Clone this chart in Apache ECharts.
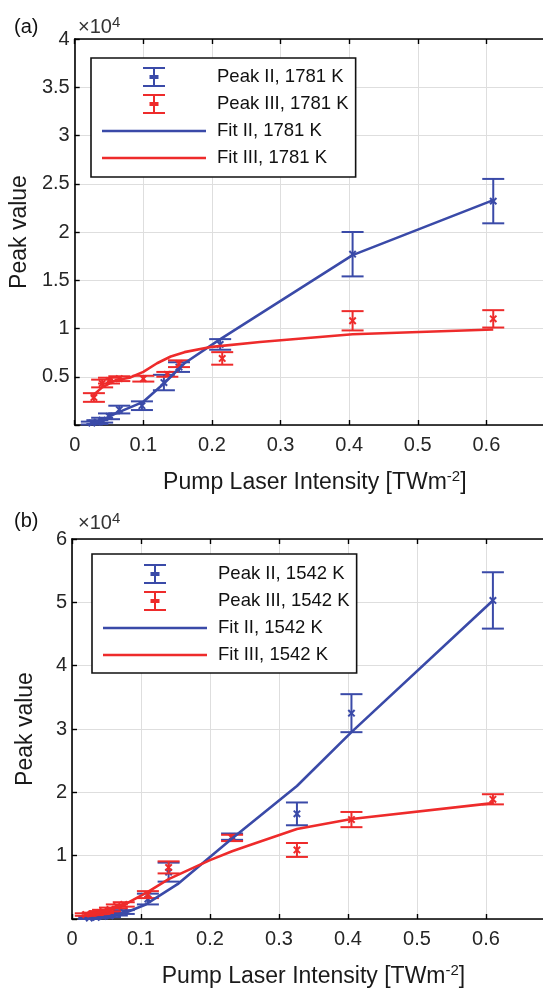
<!DOCTYPE html>
<html>
<head>
<meta charset="utf-8">
<script src="https://cdn.jsdelivr.net/npm/echarts@6/dist/echarts.min.js"></script>
<style>html,body{margin:0;padding:0;background:#fff;overflow:hidden}#c{width:572px;height:989px}</style>
</head>
<body>
<div id="c"></div>
<script>
// ---------- Panel (a): 1781 K ----------
const aPeakIIx   = [0.025, 0.033, 0.040, 0.050, 0.065, 0.098, 0.130, 0.152, 0.212, 0.405, 0.610];
const aPeakIIy   = [200, 300, 500, 900, 1600, 2000, 4400, 6000, 8350, 17700, 23200];
const aPeakIIerr = [150, 200, 250, 300, 400, 450, 800, 500, 550, 2300, 2300];
const aPeakIIIx   = [0.028, 0.040, 0.050, 0.065, 0.100, 0.135, 0.152, 0.215, 0.405, 0.610];
const aPeakIIIy   = [2850, 4300, 4600, 4800, 4800, 5250, 6350, 6900, 10800, 11000];
const aPeakIIIerr = [450, 400, 300, 250, 300, 250, 350, 650, 1000, 900];
const aFitIIx = [0.020, 0.040, 0.060, 0.100, 0.130, 0.160, 0.210, 0.405, 0.610];
const aFitIIy = [0, 500, 1200, 2400, 4300, 6400, 8800, 17600, 23300];
const aFitIIIx = [0.024, 0.040, 0.060, 0.080, 0.100, 0.120, 0.140, 0.160, 0.200, 0.270, 0.405, 0.610];
const aFitIIIy = [2900, 3900, 4650, 4900, 5500, 6400, 7100, 7550, 8100, 8600, 9400, 9900];

// ---------- Panel (b): 1542 K ----------
const bPeakIIx   = [0.025, 0.035, 0.045, 0.055, 0.065, 0.075, 0.110, 0.140, 0.232, 0.326, 0.405, 0.610];
const bPeakIIy   = [150, 250, 400, 500, 800, 1100, 3150, 7400, 13000, 16600, 32500, 50300];
const bPeakIIerr = [150, 150, 200, 200, 250, 300, 850, 1500, 500, 1800, 3000, 4450];
const bPeakIIIx   = [0.020, 0.030, 0.040, 0.045, 0.055, 0.065, 0.075, 0.110, 0.140, 0.232, 0.326, 0.405, 0.610];
const bPeakIIIy   = [700, 800, 1000, 1200, 1500, 2000, 2300, 3850, 8150, 12800, 10900, 15700, 18900];
const bPeakIIIerr = [200, 200, 250, 250, 300, 300, 350, 550, 950, 500, 1100, 1200, 800];
const bFitIIx = [0.020, 0.050, 0.080, 0.107, 0.153, 0.200, 0.232, 0.326, 0.405, 0.610];
const bFitIIy = [0, 300, 1100, 2300, 5500, 9800, 12700, 21000, 29500, 50300];
const bFitIIIx = [0.020, 0.050, 0.080, 0.110, 0.140, 0.200, 0.232, 0.256, 0.326, 0.405, 0.610];
const bFitIIIy = [700, 1300, 2500, 4300, 6300, 9300, 10700, 11600, 14200, 15800, 18300];

// ---------- labels ----------
const namesA = ['Peak II, 1781 K', 'Peak III, 1781 K', 'Fit II, 1781 K', 'Fit III, 1781 K'];
const namesB = ['Peak II, 1542 K', 'Peak III, 1542 K', 'Fit II, 1542 K', 'Fit III, 1542 K'];
const xTicks = { min: 0, max: 0.7, interval: 0.1 };
const yTicksA = { min: 0, max: 40000, interval: 5000 };
const yTicksB = { min: 0, max: 60000, interval: 10000 };
const xTitle = 'Pump Laser Intensity [TWm{s|-2}]';
const yTitle = 'Peak value';
const panelLabels = ['(a)', '(b)'];

const BLUE = '#3a4aa8';
const RED = '#ee2b2b';
const FONT = 'Liberation Sans, Arial, sans-serif';

function zip3(xs, ys, es) { return xs.map((x, i) => [x, ys[i], es[i]]); }
function zip2(xs, ys) { return xs.map((x, i) => [x, ys[i]]); }

function errRender(color) {
  return function (params, api) {
    const x = api.value(0), y = api.value(1), e = api.value(2);
    const p = api.coord([x, y]);
    const hi = api.coord([x, y + e]);
    const lo = api.coord([x, y - e]);
    const w = 11, m = 3.2;
    const st = { stroke: color, lineWidth: 2, fill: null };
    return {
      type: 'group',
      children: [
        { type: 'line', shape: { x1: p[0], y1: hi[1], x2: p[0], y2: lo[1] }, style: st },
        { type: 'line', shape: { x1: p[0] - w, y1: hi[1], x2: p[0] + w, y2: hi[1] }, style: st },
        { type: 'line', shape: { x1: p[0] - w, y1: lo[1], x2: p[0] + w, y2: lo[1] }, style: st },
        { type: 'line', shape: { x1: p[0] - m, y1: p[1] - m, x2: p[0] + m, y2: p[1] + m }, style: st },
        { type: 'line', shape: { x1: p[0] - m, y1: p[1] + m, x2: p[0] + m, y2: p[1] - m }, style: st }
      ]
    };
  };
}

const ICON_BAR = 'path://M0,0 M110,20 M41,0 L63,0 L63,2 L53,2 L53,18 L63,18 L63,20 L41,20 L41,18 L51,18 L51,2 L41,2 Z M47.5,8 L51,8 L51,12 L47.5,12 Z M53,8 L56.5,8 L56.5,12 L53,12 Z';
const ICON_LINE = 'path://M0,0 M110,20 M0,8.8 L104,8.8 L104,11.3 L0,11.3 Z';

function xAxesFor(gi) {
  return [
    {
      type: 'value', gridIndex: gi, position: 'bottom', ...xTicks,
      axisLine: { show: true, onZero: false, lineStyle: { color: '#000', width: 1.6 } },
      axisTick: { show: true, inside: true, length: 5, lineStyle: { color: '#000', width: 1.4 } },
      splitLine: { show: true, lineStyle: { color: '#dedede', width: 1 } },
      axisLabel: {
        fontSize: 20, color: '#262626', fontFamily: FONT, margin: 10, showMaxLabel: false,
        formatter: v => (v > 0.65 ? '' : String(parseFloat(v.toFixed(2))))
      },
      name: xTitle, nameLocation: 'middle', nameGap: 44,
      nameTextStyle: {
        fontSize: 23, color: '#1a1a1a', fontFamily: FONT,
        rich: { s: { fontSize: 15, fontFamily: FONT, color: '#1a1a1a', padding: [0, 0, 12, 0] } }
      }
    },
    {
      type: 'value', gridIndex: gi, position: 'top', ...xTicks,
      axisLine: { show: true, onZero: false, lineStyle: { color: '#000', width: 1.6 } },
      axisTick: { show: true, inside: true, length: 5, lineStyle: { color: '#000', width: 1.4 } },
      splitLine: { show: false },
      axisLabel: { show: false }
    }
  ];
}

function yAxisFor(gi, ticks) {
  return {
    type: 'value', gridIndex: gi, position: 'left', ...ticks,
    axisLine: { show: true, onZero: false, lineStyle: { color: '#000', width: 1.6 } },
    axisTick: { show: true, inside: true, length: 5, lineStyle: { color: '#000', width: 1.4 } },
    splitLine: { show: true, lineStyle: { color: '#dedede', width: 1 } },
    axisLabel: {
      fontSize: 20, color: '#262626', fontFamily: FONT, margin: 5,
      formatter: v => (v === 0 ? '' : String(parseFloat((v / 10000).toFixed(2))))
    },
    name: yTitle, nameLocation: 'middle', nameGap: 35,
    nameTextStyle: { fontSize: 23, color: '#1a1a1a', fontFamily: FONT }
  };
}

function legendFor(names, left, top, padding) {
  return {
    orient: 'vertical', left: left, top: top, padding: padding,
    itemWidth: 110, itemHeight: 20, itemGap: 7,
    borderColor: '#111', borderWidth: 1.6, backgroundColor: '#fff',
    selectedMode: false,
    textStyle: { fontSize: 18.5, color: '#111', fontFamily: FONT },
    data: [
      { name: names[0], icon: ICON_BAR, itemStyle: { color: BLUE, borderWidth: 0 } },
      { name: names[1], icon: ICON_BAR, itemStyle: { color: RED, borderWidth: 0 } },
      { name: names[2], icon: ICON_LINE, itemStyle: { color: BLUE, borderWidth: 0 } },
      { name: names[3], icon: ICON_LINE, itemStyle: { color: RED, borderWidth: 0 } }
    ]
  };
}

function seriesFor(gi, names, pIIx, pIIy, pIIe, pIIIx, pIIIy, pIIIe, fIIx, fIIy, fIIIx, fIIIy) {
  const axIdx = gi * 2;
  return [
    { type: 'custom', name: names[0], xAxisIndex: axIdx, yAxisIndex: gi, itemStyle: { color: BLUE },
      renderItem: errRender(BLUE), encode: { x: 0, y: 1 }, data: zip3(pIIx, pIIy, pIIe), z: 3 },
    { type: 'custom', name: names[1], xAxisIndex: axIdx, yAxisIndex: gi, itemStyle: { color: RED },
      renderItem: errRender(RED), encode: { x: 0, y: 1 }, data: zip3(pIIIx, pIIIy, pIIIe), z: 4 },
    { type: 'line', name: names[2], xAxisIndex: axIdx, yAxisIndex: gi, symbol: 'none',
      lineStyle: { color: BLUE, width: 2.6 }, itemStyle: { color: BLUE }, data: zip2(fIIx, fIIy), z: 5 },
    { type: 'line', name: names[3], xAxisIndex: axIdx, yAxisIndex: gi, symbol: 'none',
      lineStyle: { color: RED, width: 2.6 }, itemStyle: { color: RED }, data: zip2(fIIIx, fIIIy), z: 6 }
  ];
}

const chart = echarts.init(document.getElementById('c'), null, { renderer: 'canvas' });
chart.setOption({
  animation: false,
  backgroundColor: '#fff',
  textStyle: { fontFamily: FONT },
  title: [
    { text: panelLabels[0], left: 9, top: 12, textStyle: { fontSize: 20, fontWeight: 'normal', color: '#111', fontFamily: FONT } },
    { text: '×10{s|4}', left: 73, top: 10,
      textStyle: { fontSize: 20, fontWeight: 'normal', color: '#333', fontFamily: FONT,
        rich: { s: { fontSize: 15, color: '#333', fontFamily: FONT, padding: [0, 0, 10, 0] } } } },
    { text: panelLabels[1], left: 9, top: 506, textStyle: { fontSize: 20, fontWeight: 'normal', color: '#111', fontFamily: FONT } },
    { text: '×10{s|4}', left: 73, top: 506,
      textStyle: { fontSize: 20, fontWeight: 'normal', color: '#333', fontFamily: FONT,
        rich: { s: { fontSize: 15, color: '#333', fontFamily: FONT, padding: [0, 0, 10, 0] } } } }
  ],
  grid: [
    { left: 72, right: 17, top: 39, bottom: 564, containLabel: false },
    { left: 72, right: 17, top: 539, bottom: 66, containLabel: false }
  ],
  xAxis: [...xAxesFor(0), ...xAxesFor(1)],
  yAxis: [yAxisFor(0, yTicksA), yAxisFor(1, yTicksB)],
  legend: [
    legendFor(namesA, 91, 58, [9, 7, 9, 11]),
    legendFor(namesB, 92, 554, [10, 7, 8, 11])
  ],
  series: [
    ...seriesFor(0, namesA, aPeakIIx, aPeakIIy, aPeakIIerr, aPeakIIIx, aPeakIIIy, aPeakIIIerr, aFitIIx, aFitIIy, aFitIIIx, aFitIIIy),
    ...seriesFor(1, namesB, bPeakIIx, bPeakIIy, bPeakIIerr, bPeakIIIx, bPeakIIIy, bPeakIIIerr, bFitIIx, bFitIIy, bFitIIIx, bFitIIIy)
  ]
});
</script>
</body>
</html>
